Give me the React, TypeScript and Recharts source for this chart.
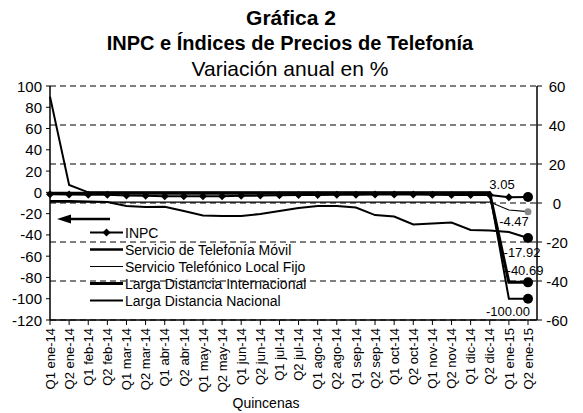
import React from 'react';
import { LineChart, Line, XAxis, YAxis, CartesianGrid, Legend, LabelList } from 'recharts';

const quincenas = [
  'Q1 ene-14', 'Q2 ene-14', 'Q1 feb-14', 'Q2 feb-14', 'Q1 mar-14', 'Q2 mar-14',
  'Q1 abr-14', 'Q2 abr-14', 'Q1 may-14', 'Q2 may-14', 'Q1 jun-14', 'Q2 jun-14',
  'Q1 jul-14', 'Q2 jul-14', 'Q1 ago-14', 'Q2 ago-14', 'Q1 sep-14', 'Q2 sep-14',
  'Q1 oct-14', 'Q2 oct-14', 'Q1 nov-14', 'Q2 nov-14', 'Q1 dic-14', 'Q2 dic-14',
  'Q1 ene-15', 'Q2 ene-15',
];

// right axis
const inpc = [4.5, 4.4, 4.2, 4.2, 3.8, 3.7, 3.5, 3.4, 3.5, 3.5, 3.7, 3.8, 4.0, 4.1, 4.1, 4.2, 4.2, 4.3, 4.3, 4.3, 4.2, 4.1, 4.1, 4.1, 3.0, 3.05];
const movil = [1.0, 1.0, 0.8, 0.5, -1.5, -2.0, -1.9, -4.1, -6.4, -6.7, -6.7, -5.6, -4.1, -2.6, -1.5, -1.5, -2.3, -6.2, -6.9, -11.0, -10.5, -10.0, -13.8, -14.1, -14.9, -17.92];
const localFijo = [0.5, 0.5, 0.5, 0.5, 0.5, 0.5, 0.5, 0.5, 0.5, 0.5, 0.5, 0.5, 0.5, 0.5, 0.5, 0.5, 0.5, 0.5, 0.5, 0.5, 0.5, 0.5, 0.5, 0.5, -3.6, -4.47];
const ldInternacional = [5.0, 5.0, 5.0, 5.0, 5.0, 5.0, 5.0, 5.0, 5.0, 5.0, 5.0, 5.0, 5.0, 5.0, 5.0, 5.0, 5.0, 5.0, 5.0, 5.0, 5.0, 5.0, 5.0, 5.0, -40.69, -40.69];
// left axis
const ldNacional = [90, 7, 0, 0, 0, 0, 0, 0, 0, 0, 0, 0, 0, 0, 0, 0, 0, 0, 0, 0, 0, 0, 0, 0, -100, -100];

const leftTicks = [100, 80, 60, 40, 20, 0, -20, -40, -60, -80, -100, -120];
const rightTicks = [60, 40, 20, 0, -20, -40, -60];

const seriesNames = {
  inpc: 'INPC',
  movil: 'Servicio de Telefonía Móvil',
  localFijo: 'Servicio Telefónico Local Fijo',
  ldi: 'Larga Distancia Internacional',
  ldn: 'Larga Distancia Nacional',
};
const legendOrder = ['inpc', 'movil', 'localFijo', 'ldi', 'ldn'];

const data = quincenas.map((q, i) => ({
  q,
  inpc: inpc[i],
  movil: movil[i],
  localFijo: localFijo[i],
  ldi: ldInternacional[i],
  ldn: ldNacional[i],
}));

const LAST = quincenas.length - 1;
const FONT = '"Liberation Sans", Arial, sans-serif';

const XTick = (props: any) => {
  const { x, y, payload } = props;
  return (
    <g transform={`translate(${x},${y + 1})`}>
      <text transform="rotate(-90)" textAnchor="end" dy="0.36em" fontSize={13} fontFamily={FONT} fill="#000">
        {payload.value}
      </text>
    </g>
  );
};

const LeftTick = (props: any) => {
  const { x, y, payload } = props;
  return (
    <text x={x} y={y} textAnchor="end" dominantBaseline="central" fontSize={15} fontFamily={FONT} fill="#000">
      {payload.value}
    </text>
  );
};

const RightTick = (props: any) => {
  const { x, y, payload } = props;
  return (
    <text x={x + 13} y={y} textAnchor="middle" dominantBaseline="central" fontSize={15} fontFamily={FONT} fill="#000">
      {payload.value}
    </text>
  );
};

const inpcDot = (props: any) => {
  const { cx, cy, index } = props;
  if (index === LAST) return <circle key={`d${index}`} cx={cx} cy={cy} r={5} fill="#000" />;
  return <path key={`d${index}`} d={`M${cx},${cy - 4}L${cx + 4},${cy}L${cx},${cy + 4}L${cx - 4},${cy}Z`} fill="#000" />;
};

const endDot = (fill: string, r: number) => (props: any) => {
  const { cx, cy, index } = props;
  if (index === LAST) return <circle key={`e${index}`} cx={cx} cy={cy} r={r} fill={fill} />;
  return <g key={`e${index}`} />;
};

const endLabel = (dx: number, dy: number) => (props: any) => {
  const { x, y, value, index } = props;
  if (index !== LAST) return null;
  return (
    <text x={x + dx} y={y + dy} textAnchor="middle" dominantBaseline="central" fontSize={13} fontFamily={FONT} fill="#000">
      {Number(value).toFixed(2)}
    </text>
  );
};

const sampleStyles: Record<string, { w: number; diamond?: boolean }> = {
  inpc: { w: 2, diamond: true },
  movil: { w: 2.5 },
  localFijo: { w: 1.2 },
  ldi: { w: 3 },
  ldn: { w: 2 },
};

const renderLegend = (props: any) => {
  const payload = [...(props.payload || [])].sort(
    (a: any, b: any) => legendOrder.indexOf(a.dataKey) - legendOrder.indexOf(b.dataKey)
  );
  return (
    <div style={{ fontFamily: FONT, fontSize: 14, color: '#000' }}>
      {payload.map((p: any) => {
        const s = sampleStyles[p.dataKey] || { w: 2 };
        return (
          <div key={p.dataKey} style={{ display: 'flex', alignItems: 'center', height: 17, whiteSpace: 'nowrap' }}>
            <svg width={37} height={17} style={{ flex: 'none' }}>
              <line x1={2} y1={8.5} x2={35} y2={8.5} stroke="#000" strokeWidth={s.w} />
              {s.diamond && <path d="M18.5,4.5L22.5,8.5L18.5,12.5L14.5,8.5Z" fill="#000" />}
            </svg>
            <span>{p.value}</span>
          </div>
        );
      })}
    </div>
  );
};

export default function App() {
  return (
    <div style={{ position: 'absolute', left: 0, top: 0, width: 583, height: 413, background: '#fff', fontFamily: FONT }}>
      <LineChart width={583} height={413} data={data} margin={{ top: 86, right: 0, bottom: 0, left: 0 }}>
        <CartesianGrid yAxisId="right" vertical={false} stroke="#000" strokeWidth={1} strokeDasharray="6 4" />
        <XAxis
          dataKey="q"
          scale="point"
          interval={0}
          height={93}
          padding={{ left: 0, right: 9 }}
          tick={<XTick />}
          tickSize={5}
          axisLine={{ stroke: '#000', strokeWidth: 1.5 }}
          tickLine={{ stroke: '#000' }}
        />
        <YAxis
          yAxisId="left"
          domain={[-120, 100]}
          ticks={leftTicks}
          interval={0}
          width={50}
          tickSize={4}
          tickMargin={4}
          tick={<LeftTick />}
          axisLine={{ stroke: '#000', strokeWidth: 1.5 }}
          tickLine={{ stroke: '#000' }}
        />
        <YAxis
          yAxisId="right"
          orientation="right"
          domain={[-60, 60]}
          ticks={rightTicks}
          interval={0}
          width={46}
          tickSize={5}
          tick={<RightTick />}
          axisLine={{ stroke: '#000', strokeWidth: 1.5 }}
          tickLine={{ stroke: '#000' }}
        />
        <Legend
          layout="vertical"
          align="center"
          verticalAlign="middle"
          itemSorter={(item: any) => legendOrder.indexOf(item.dataKey)}
          content={renderLegend}
          wrapperStyle={{ left: 88, top: 224, width: 260 }}
        />
        <Line yAxisId="right" dataKey="inpc" name={seriesNames.inpc} stroke="#000" strokeWidth={2} dot={inpcDot} activeDot={false} isAnimationActive={false}>
          <LabelList dataKey="inpc" content={endLabel(-26, -13)} />
        </Line>
        <Line yAxisId="right" dataKey="movil" name={seriesNames.movil} stroke="#000" strokeWidth={2} dot={endDot('#000', 5)} activeDot={false} isAnimationActive={false}>
          <LabelList dataKey="movil" content={endLabel(-6, 15)} />
        </Line>
        <Line yAxisId="right" dataKey="localFijo" name={seriesNames.localFijo} stroke="#000" strokeWidth={1.2} dot={endDot('#888', 3.5)} activeDot={false} isAnimationActive={false}>
          <LabelList dataKey="localFijo" content={endLabel(-14, 10)} />
        </Line>
        <Line yAxisId="right" dataKey="ldi" name={seriesNames.ldi} stroke="#000" strokeWidth={3} dot={endDot('#000', 5)} activeDot={false} isAnimationActive={false}>
          <LabelList dataKey="ldi" content={endLabel(-3, -12)} />
        </Line>
        <Line yAxisId="left" dataKey="ldn" name={seriesNames.ldn} stroke="#000" strokeWidth={2} dot={endDot('#000', 5)} activeDot={false} isAnimationActive={false}>
          <LabelList dataKey="ldn" content={endLabel(-20, 13)} />
        </Line>
      </LineChart>
      <svg width={583} height={413} style={{ position: 'absolute', left: 0, top: 0, pointerEvents: 'none' }}>
        <text x={291} y={25} textAnchor="middle" fontSize={21} fontWeight="bold" fontFamily={FONT} fill="#000">Gráfica 2</text>
        <text x={290} y={50} textAnchor="middle" fontSize={20} fontWeight="bold" fontFamily={FONT} fill="#000">INPC e Índices de Precios de Telefonía</text>
        <text x={290} y={76} textAnchor="middle" fontSize={21} fontFamily={FONT} fill="#000">Variación anual en %</text>
        <text x={266} y={408} textAnchor="middle" fontSize={14} fontFamily={FONT} fill="#000">Quincenas</text>
        <line x1={68} y1={219} x2={110} y2={219} stroke="#000" strokeWidth={2.5} />
        <path d="M57,219L71,214.5L71,223.5Z" fill="#000" />
      </svg>
    </div>
  );
}
